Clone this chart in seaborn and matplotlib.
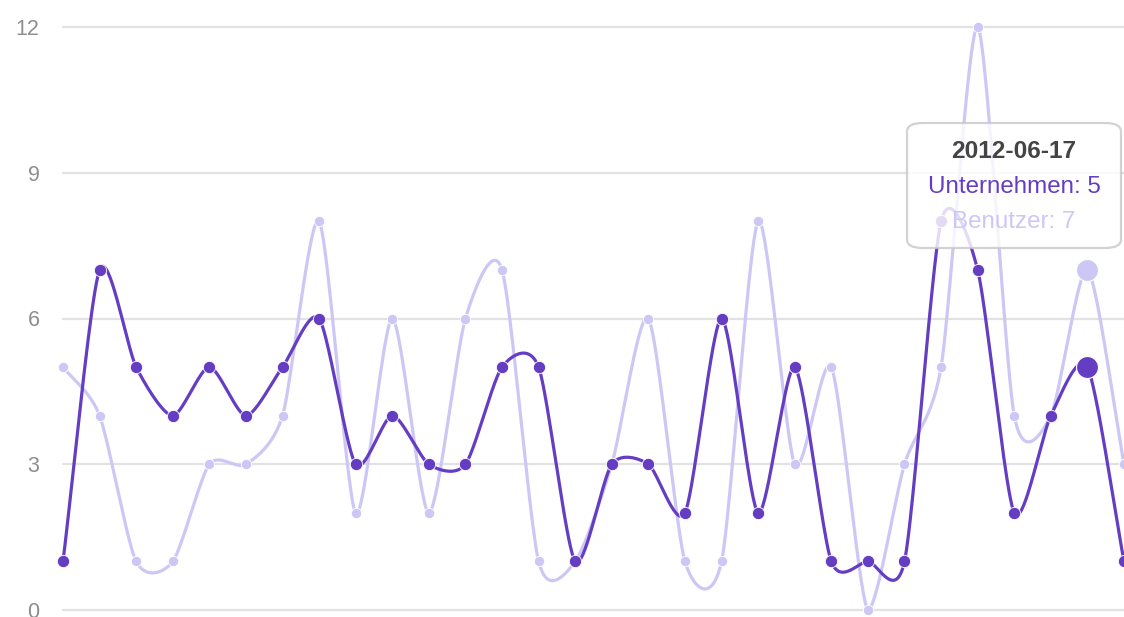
import numpy as np
import pandas as pd
import matplotlib
matplotlib.use("Agg")
import matplotlib.pyplot as plt
from matplotlib.patches import FancyBboxPatch
import seaborn as sns

# Daily counts
dates = pd.date_range("2012-05-20", periods=30, freq="D").strftime("%Y-%m-%d").tolist()
unternehmen = [1, 7, 5, 4, 5, 4, 5, 6, 3, 4, 3, 3, 5, 5, 1, 3, 3, 2, 6, 2, 5, 1, 1, 1, 8, 7, 2, 4, 5, 1]
benutzer = [5, 4, 1, 1, 3, 3, 4, 8, 2, 6, 2, 6, 7, 1, 1, 3, 6, 1, 1, 8, 3, 5, 0, 3, 5, 12, 4, 4, 7, 3]
y_ticks = [0, 3, 6, 9, 12]
hover_index = 28

DARK = "#653dc2"
LIGHT = "#cdc7f6"

sns.set_theme(style="white")
plt.rcParams["font.family"] = ["Liberation Sans", "DejaVu Sans"]

W, H = 1124, 617
fig = plt.figure(figsize=(W / 100, H / 100), dpi=100)
ax = fig.add_axes([63 / W, 7 / H, (W - 63) / W, (610 - 27) / H])

df = pd.DataFrame({
    "idx": np.arange(len(dates)),
    "date": dates,
    "Unternehmen": unternehmen,
    "Benutzer": benutzer,
})


def smooth_path(xs, ys, ymin=0.0, n=40):
    """Bezier path through the points, gradients from neighbouring points."""
    xs = np.asarray(xs, float)
    ys = np.asarray(ys, float)
    g = np.empty_like(ys)
    g[1:-1] = (ys[2:] - ys[:-2]) / (xs[2:] - xs[:-2])
    g[0] = (ys[1] - ys[0]) / (xs[1] - xs[0])
    g[-1] = (ys[-1] - ys[-2]) / (xs[-1] - xs[-2])
    px, py = [xs[0]], [ys[0]]
    t = np.linspace(0, 1, n)[1:]
    for i in range(1, len(xs)):
        ix = (xs[i] - xs[i - 1]) / 4
        p0 = (xs[i - 1], ys[i - 1])
        p1 = (xs[i - 1] + ix, max(ymin, ys[i - 1] + ix * g[i - 1]))
        p2 = (xs[i] - ix, max(ymin, ys[i] - ix * g[i]))
        p3 = (xs[i], ys[i])
        a = (1 - t) ** 3
        b = 3 * (1 - t) ** 2 * t
        c = 3 * (1 - t) * t ** 2
        d = t ** 3
        px.extend(a * p0[0] + b * p1[0] + c * p2[0] + d * p3[0])
        py.extend(a * p0[1] + b * p1[1] + c * p2[1] + d * p3[1])
    return np.array(px), np.array(py)


# grid
for yv in y_ticks:
    ax.axhline(yv, color="#e2e2e2", lw=1.6, zorder=0, clip_on=False)

# smooth lines
for col, color in (("Benutzer", LIGHT), ("Unternehmen", DARK)):
    sx, sy = smooth_path(df["idx"], df[col])
    ax.plot(sx, sy, color=color, lw=2.3, zorder=2, solid_capstyle="round", clip_on=False)

# points
normal = df.drop(index=hover_index)
sns.scatterplot(data=normal, x="idx", y="Benutzer", color=LIGHT, s=55, linewidth=0.6,
                edgecolor="white", ax=ax, zorder=3, clip_on=False)
sns.scatterplot(data=normal, x="idx", y="Unternehmen", color=DARK, s=78, linewidth=0.6,
                edgecolor="white", ax=ax, zorder=4, clip_on=False)
hover = df.loc[[hover_index]]
sns.scatterplot(data=hover, x="idx", y="Benutzer", color=LIGHT, s=250, linewidth=0.8,
                edgecolor="white", ax=ax, zorder=3, clip_on=False)
sns.scatterplot(data=hover, x="idx", y="Unternehmen", color=DARK, s=250, linewidth=0.8,
                edgecolor="white", ax=ax, zorder=4, clip_on=False)

ax.set_xlim(0, len(dates) - 1)
ax.set_ylim(0, 12)
ax.set_yticks(y_ticks)
ax.set_yticklabels([str(v) for v in y_ticks], color="#8e8e8e", fontsize=15.5)
ax.set_xticks([])
ax.tick_params(axis="y", length=0, pad=17)
ax.set_xlabel("")
ax.set_ylabel("")
for sp in ax.spines.values():
    sp.set_visible(False)
ax.set_facecolor("none")

# hover box
bx0, by0, bx1, by1 = 907, 123, 1121, 248
box = FancyBboxPatch((bx0 / W, 1 - by1 / H), (bx1 - bx0) / W, (by1 - by0) / H,
                     boxstyle="round,pad=0,rounding_size=0.014",
                     transform=fig.transFigure, facecolor="white", alpha=0.82,
                     edgecolor="#c8c8c8", linewidth=1.6, zorder=10)
fig.patches.append(box)
cx = (bx0 + bx1) / 2 / W
row = hover.iloc[0]
fig.text(cx, 1 - 152 / H, row["date"], ha="center", va="center", fontsize=17.6,
         fontweight="bold", color="#444444", zorder=11)
fig.text(cx, 1 - 187 / H, f"Unternehmen: {row['Unternehmen']}", ha="center", va="center",
         fontsize=17.4, color=DARK, zorder=11)
fig.text(cx, 1 - 222 / H, f"Benutzer: {row['Benutzer']}", ha="center", va="center",
         fontsize=17.4, color=LIGHT, zorder=11)

fig.savefig("out.png", dpi=100, facecolor="white")
